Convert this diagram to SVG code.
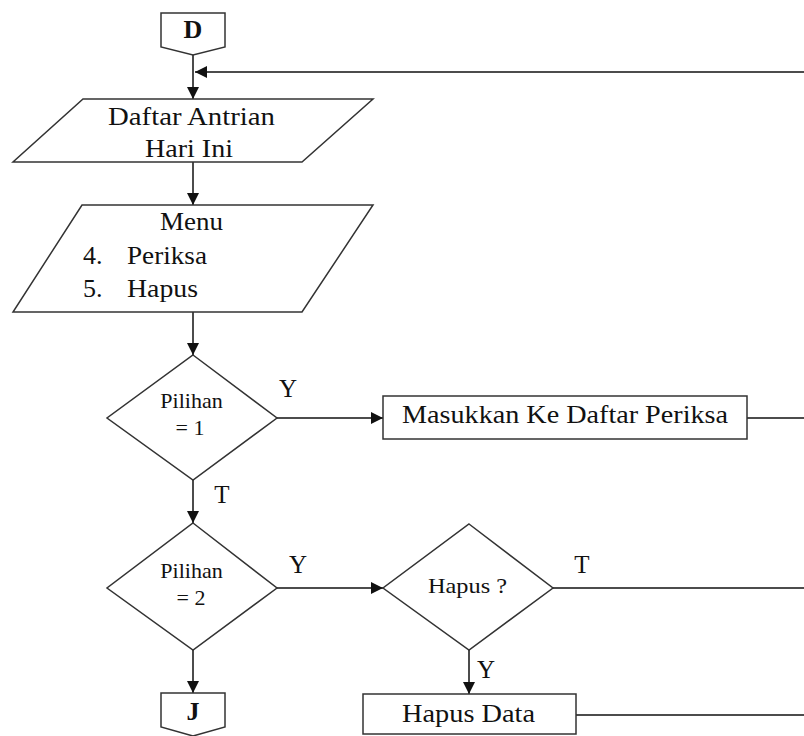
<svg xmlns="http://www.w3.org/2000/svg" width="804" height="736" viewBox="0 0 804 736">
<style>
.s{fill:#fff;stroke:#333;stroke-width:1.5}
.c{fill:none;stroke:#111;stroke-width:1.5}
text{fill:#111}
.t{font-size:26px;text-anchor:middle}
.l{font-size:26px;text-anchor:start}
.sm{font-size:22px;text-anchor:middle}
.lb{font-size:25px;text-anchor:middle}
.b{font-size:26px;font-weight:bold;text-anchor:middle}
</style>
<defs>
<marker id="a" markerUnits="userSpaceOnUse" markerWidth="12" markerHeight="12" refX="12" refY="6" orient="auto">
<path d="M0,0 L12,6 L0,12 z" fill="#111"/>
</marker>
</defs>
<rect width="804" height="736" fill="#fff"/>
<g font-family="'Liberation Serif', Tinos, 'Times New Roman', 'DejaVu Serif', serif">
<g id="connectors">
<line class="c" x1="193" y1="55" x2="193" y2="99" marker-end="url(#a)"/>
<line class="c" x1="804" y1="72" x2="195" y2="72" marker-end="url(#a)"/>
<line class="c" x1="193" y1="162" x2="193" y2="205" marker-end="url(#a)"/>
<line class="c" x1="193" y1="312" x2="193" y2="355" marker-end="url(#a)"/>
<line class="c" x1="277" y1="418" x2="383" y2="418" marker-end="url(#a)"/>
<line class="c" x1="747" y1="418" x2="804" y2="418"/>
<line class="c" x1="193" y1="480" x2="193" y2="523" marker-end="url(#a)"/>
<line class="c" x1="277" y1="588" x2="383" y2="588" marker-end="url(#a)"/>
<line class="c" x1="553" y1="588" x2="804" y2="588"/>
<line class="c" x1="469" y1="650" x2="469" y2="694" marker-end="url(#a)"/>
<line class="c" x1="576" y1="715" x2="804" y2="715"/>
<line class="c" x1="193" y1="650" x2="193" y2="693" marker-end="url(#a)"/>
<text class="lb" x="288" y="397">Y</text>
<text class="lb" x="222" y="503">T</text>
<text class="lb" x="298" y="573">Y</text>
<text class="lb" x="582" y="573">T</text>
<text class="lb" x="486" y="678">Y</text>
</g>
<g id="D">
<polygon class="s" points="161,13 225,13 225,47 193,55 161,47"/>
<text class="b" x="193" y="38">D</text>
</g>
<g id="daftar">
<polygon class="s" points="83,99 373,99 302,162 13,162"/>
<text class="t" x="191.5" y="125" textLength="167" lengthAdjust="spacingAndGlyphs">Daftar Antrian</text>
<text class="t" x="189" y="157" textLength="88" lengthAdjust="spacingAndGlyphs">Hari Ini</text>
</g>
<g id="menu">
<polygon class="s" points="82,205 373,205 302,312 13,312"/>
<text class="t" x="191.5" y="230" textLength="63" lengthAdjust="spacingAndGlyphs">Menu</text>
<text class="l" x="83" y="264">4.</text>
<text class="l" x="127" y="264" textLength="80" lengthAdjust="spacingAndGlyphs">Periksa</text>
<text class="l" x="83" y="297">5.</text>
<text class="l" x="127" y="297" textLength="71" lengthAdjust="spacingAndGlyphs">Hapus</text>
</g>
<g id="pilihan1">
<polygon class="s" points="193,355 277,418 193,480 107,418"/>
<text class="sm" x="191.5" y="408">Pilihan</text>
<text class="sm" x="190" y="435">= 1</text>
</g>
<g id="masukkan">
<rect class="s" x="383" y="396" width="364" height="43"/>
<text class="t" x="565" y="423" textLength="326" lengthAdjust="spacingAndGlyphs">Masukkan Ke Daftar Periksa</text>
</g>
<g id="pilihan2">
<polygon class="s" points="193,523 277,588 193,650 107,588"/>
<text class="sm" x="191.5" y="578">Pilihan</text>
<text class="sm" x="191" y="605">= 2</text>
</g>
<g id="hapus">
<polygon class="s" points="469,524 553,588 469,650 383,588"/>
<text class="sm" x="467.5" y="593" textLength="79" lengthAdjust="spacingAndGlyphs">Hapus ?</text>
</g>
<g id="hapusdata">
<rect class="s" x="363" y="694" width="213" height="40"/>
<text class="t" x="468.5" y="722" textLength="133" lengthAdjust="spacingAndGlyphs">Hapus Data</text>
</g>
<g id="J">
<polygon class="s" points="161,693 225,693 225,727 193,736 161,727"/>
<text class="b" x="193" y="720">J</text>
</g>
</g>
</svg>
